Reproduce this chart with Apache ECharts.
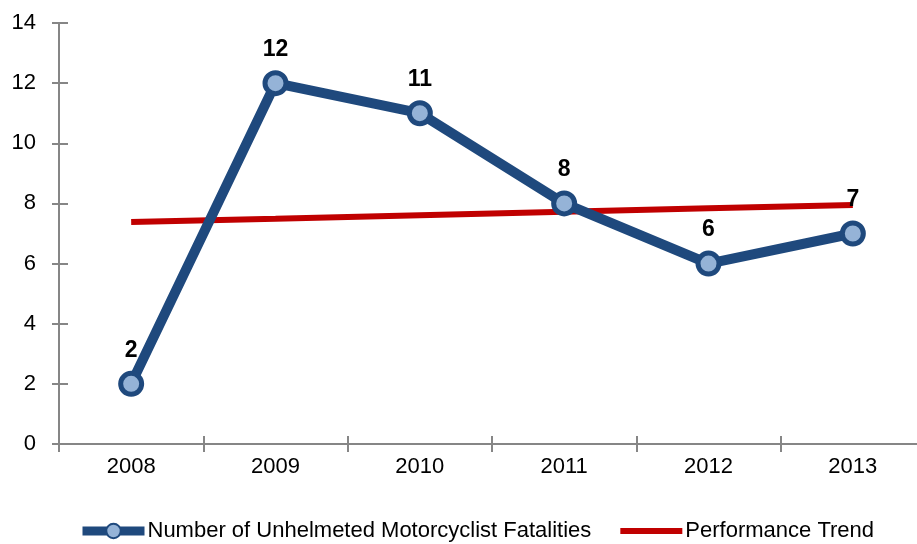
<!DOCTYPE html>
<html>
<head>
<meta charset="utf-8">
<script src="https://cdn.jsdelivr.net/npm/echarts@6/dist/echarts.min.js"></script>
<style>
html,body{margin:0;padding:0;background:#fff;}
#chart{width:917px;height:544px;}
</style>
</head>
<body>
<div id="chart"></div>
<script>
// 年份与数值
var years = ['2008', '2009', '2010', '2011', '2012', '2013'];
var fatalities = [2, 12, 11, 8, 6, 7];
var trend = [7.38, 7.49, 7.61, 7.72, 7.84, 7.95];
var yTicks = {min: 0, max: 14, interval: 2};

var font = '"Liberation Sans Narrow", "Liberation Sans", Arial, sans-serif';
var axisGrey = '#868686';

var myChart = echarts.init(document.getElementById('chart'));
var option = {
    animation: false,
    grid: {
        left: 59,
        top: 23,
        width: 866,
        bottom: 100,
        outerBoundsMode: 'none'
    },
    legend: {
        left: 78,
        top: 520,
        width: 830,
        itemWidth: 62,
        itemHeight: 18,
        itemGap: 26,
        padding: 0,
        textStyle: {
            fontFamily: font,
            fontSize: 22,
            color: '#000',
            padding: [0, 0, 0, -2]
        },
        data: [
            {name: 'Number of Unhelmeted Motorcyclist Fatalities', lineStyle: {width: 9}},
            {name: 'Performance Trend', lineStyle: {width: 6}, itemStyle: {opacity: 0}}
        ]
    },
    xAxis: [
        {
            type: 'category',
            data: years,
            boundaryGap: true,
            axisLine: {lineStyle: {color: axisGrey, width: 2}},
            axisTick: {show: true, length: 8, lineStyle: {color: axisGrey, width: 2}},
            axisLabel: {
                color: '#000',
                fontFamily: font,
                fontSize: 22,
                margin: 12
            }
        },
        {
            // 内侧刻度，做出穿过轴线的效果
            type: 'category',
            data: years,
            position: 'bottom',
            boundaryGap: true,
            axisLine: {show: false},
            axisTick: {show: true, inside: true, length: 8, lineStyle: {color: axisGrey, width: 2}},
            axisLabel: {show: false}
        }
    ],
    yAxis: [
        {
            type: 'value',
            min: yTicks.min,
            max: yTicks.max,
            interval: yTicks.interval,
            splitLine: {show: false},
            axisLine: {show: true, lineStyle: {color: axisGrey, width: 2}},
            axisTick: {show: true, length: 7, lineStyle: {color: axisGrey, width: 2}},
            axisLabel: {
                color: '#000',
                fontFamily: font,
                fontSize: 22,
                margin: 23
            }
        },
        {
            type: 'value',
            position: 'left',
            min: yTicks.min,
            max: yTicks.max,
            interval: yTicks.interval,
            splitLine: {show: false},
            axisLine: {show: false},
            axisTick: {show: true, inside: true, length: 9, lineStyle: {color: axisGrey, width: 2}},
            axisLabel: {show: false}
        }
    ],
    series: [
        {
            name: 'Number of Unhelmeted Motorcyclist Fatalities',
            type: 'line',
            data: fatalities,
            symbol: 'circle',
            symbolSize: 21,
            z: 3,
            lineStyle: {color: '#1f497d', width: 10},
            itemStyle: {
                color: '#95b3d7',
                borderColor: '#1f497d',
                borderWidth: 5
            },
            label: {
                show: true,
                position: 'top',
                distance: 9,
                color: '#000',
                fontFamily: font,
                fontSize: 23,
                fontWeight: 'bold'
            }
        },
        {
            name: 'Performance Trend',
            type: 'line',
            data: trend,
            symbol: 'none',
            z: 2,
            lineStyle: {color: '#c00000', width: 6},
            itemStyle: {color: '#c00000'}
        }
    ]
};
myChart.setOption(option);
</script>
</body>
</html>
